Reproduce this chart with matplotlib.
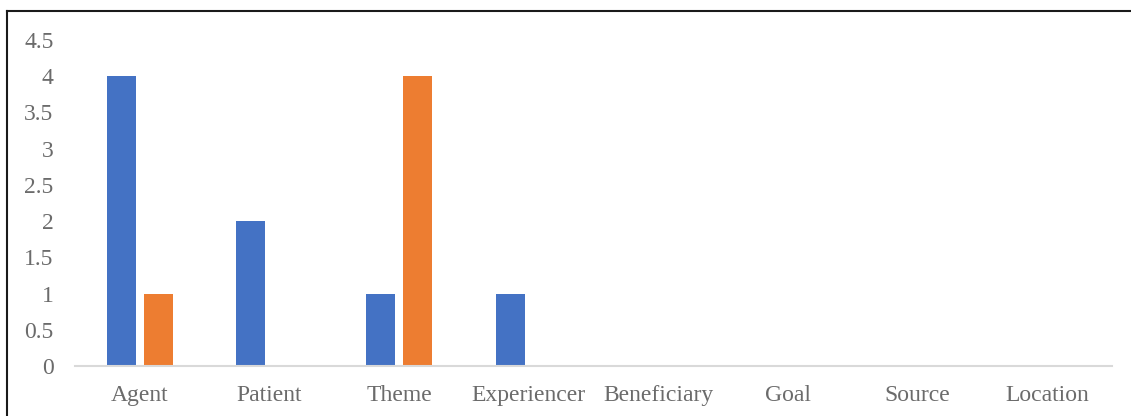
import matplotlib
matplotlib.use("Agg")
import matplotlib.pyplot as plt
from matplotlib.lines import Line2D
import numpy as np

categories = ["Agent", "Patient", "Theme", "Experiencer", "Beneficiary", "Goal", "Source", "Location"]
series1 = [4, 2, 1, 1, 0, 0, 0, 0]
series2 = [1, 0, 4, 0, 0, 0, 0, 0]
yticks = [0, 0.5, 1, 1.5, 2, 2.5, 3, 3.5, 4, 4.5]
ytick_labels = ["0", "0.5", "1", "1.5", "2", "2.5", "3", "3.5", "4", "4.5"]

plt.rcParams['font.family'] = ['Liberation Serif', 'DejaVu Serif']

fig = plt.figure(figsize=(11.31, 4.16), dpi=100)
ax = fig.add_axes([75/1131, 1-366/416, (1112-75)/1131, (366-40)/416])

x = np.arange(len(categories))
w = 0.224
gap = 8/129.6
ax.bar(x - w/2 - gap/2, series1, width=w, color="#4472C4")
ax.bar(x + w/2 + gap/2, series2, width=w, color="#ED7D31")

ax.set_xlim(-0.5, len(categories) - 0.5)
ax.set_ylim(0, 4.5)
ax.set_yticks(yticks)
ax.set_yticklabels(ytick_labels)
ax.set_xticks(x)
ax.set_xticklabels(categories)
ax.tick_params(axis='both', length=0, labelsize=17, labelcolor="#6b6b6b")
ax.tick_params(axis='y', pad=15.5)
ax.tick_params(axis='x', pad=13.5)
for s in ["top", "right", "left"]:
    ax.spines[s].set_visible(False)
ax.spines["bottom"].set_color("#D9D9D9")
ax.spines["bottom"].set_linewidth(1.5)

# outer border (top and left visible)
fig.add_artist(Line2D([7/1131, 7/1131], [0, 1-11/416], transform=fig.transFigure, color="#1a1a1a", lw=1.5))
fig.add_artist(Line2D([7/1131, 1], [1-11/416, 1-11/416], transform=fig.transFigure, color="#1a1a1a", lw=1.5))

fig.savefig("out.png", dpi=100)
